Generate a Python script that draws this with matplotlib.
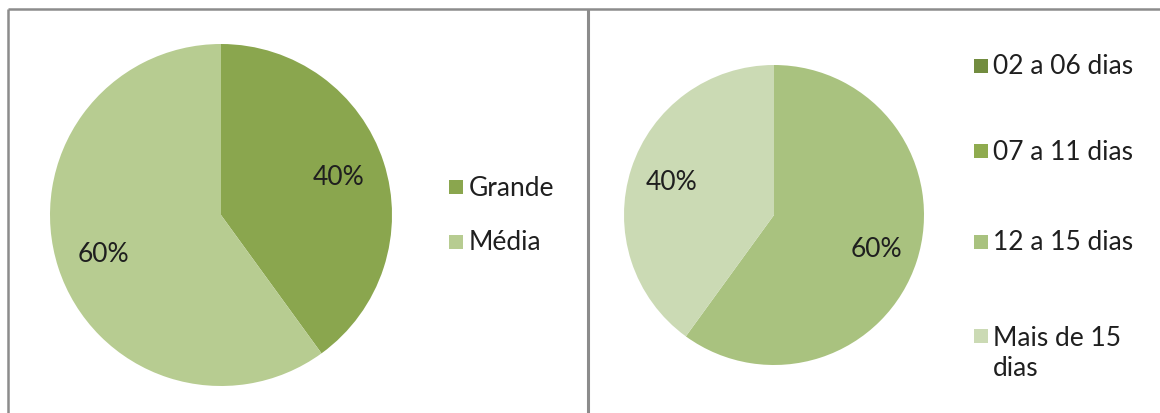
import numpy as np
import matplotlib
matplotlib.use('Agg')
import matplotlib.pyplot as plt
from matplotlib.patches import Rectangle

plt.rcParams['font.family'] = ['Lato', 'DejaVu Sans']

# left chart - porte
porte_labels = ['Grande', 'Média']
porte_values = [40, 60]
porte_colors = ['#8aa64e', '#b7cc91']

# right chart - dias
dias_labels = ['02 a 06 dias', '07 a 11 dias', '12 a 15 dias', 'Mais de 15\ndias']
dias_values = [0, 0, 60, 40]
dias_colors = ['#728c3f', '#8fab4f', '#a9c27f', '#cbdab4']

W, H = 1160, 414
fs = 19
txt = '#1f1f1f'
fig = plt.figure(figsize=(W / 100, H / 100), dpi=100)
ax = fig.add_axes([0, 0, 1, 1])

def pct(p):
    return '%.0f%%' % p if p > 0.5 else ''

# pies (pixel coords, y from bottom)
ax.pie(porte_values, colors=porte_colors, startangle=90, counterclock=False,
       center=(221, H - 216), radius=171, autopct=pct, pctdistance=0.72,
       textprops={'fontsize': fs, 'color': txt}, frame=True)
ax.pie(dias_values, colors=dias_colors, startangle=90, counterclock=False,
       center=(774, H - 216), radius=150, autopct=pct, pctdistance=0.72,
       textprops={'fontsize': fs, 'color': txt}, frame=True)
ax.set_xlim(0, W)
ax.set_ylim(0, H)
ax.set_aspect('equal')
ax.axis('off')

# legends
sq = 14
line_px = 33
for lab, col, y in zip(porte_labels, porte_colors, [188, 243]):
    ax.add_patch(Rectangle((449, H - y - sq / 2), sq, sq, color=col, lw=0))
    ax.text(469, H - y, lab, fontsize=fs, va='center', ha='left', color=txt)
for lab, col, y in zip(dias_labels, dias_colors, [67, 152, 243, 337]):
    ax.add_patch(Rectangle((974, H - y - sq / 2), sq, sq, color=col, lw=0))
    n = lab.count('\n')
    ax.text(993, H - y - n * line_px / 2, lab, fontsize=fs, va='center', ha='left',
            color=txt, linespacing=1.22)

# panel borders
lc = '#8c8c8c'
ax.plot([8, W], [H - 10, H - 10], color=lc, lw=1.8, solid_capstyle='butt')
ax.plot([8, 8], [0, H - 10], color=lc, lw=1.8, solid_capstyle='butt')
ax.plot([588, 588], [0, H - 10], color=lc, lw=2.2, solid_capstyle='butt')

fig.savefig('out.png', dpi=100)
